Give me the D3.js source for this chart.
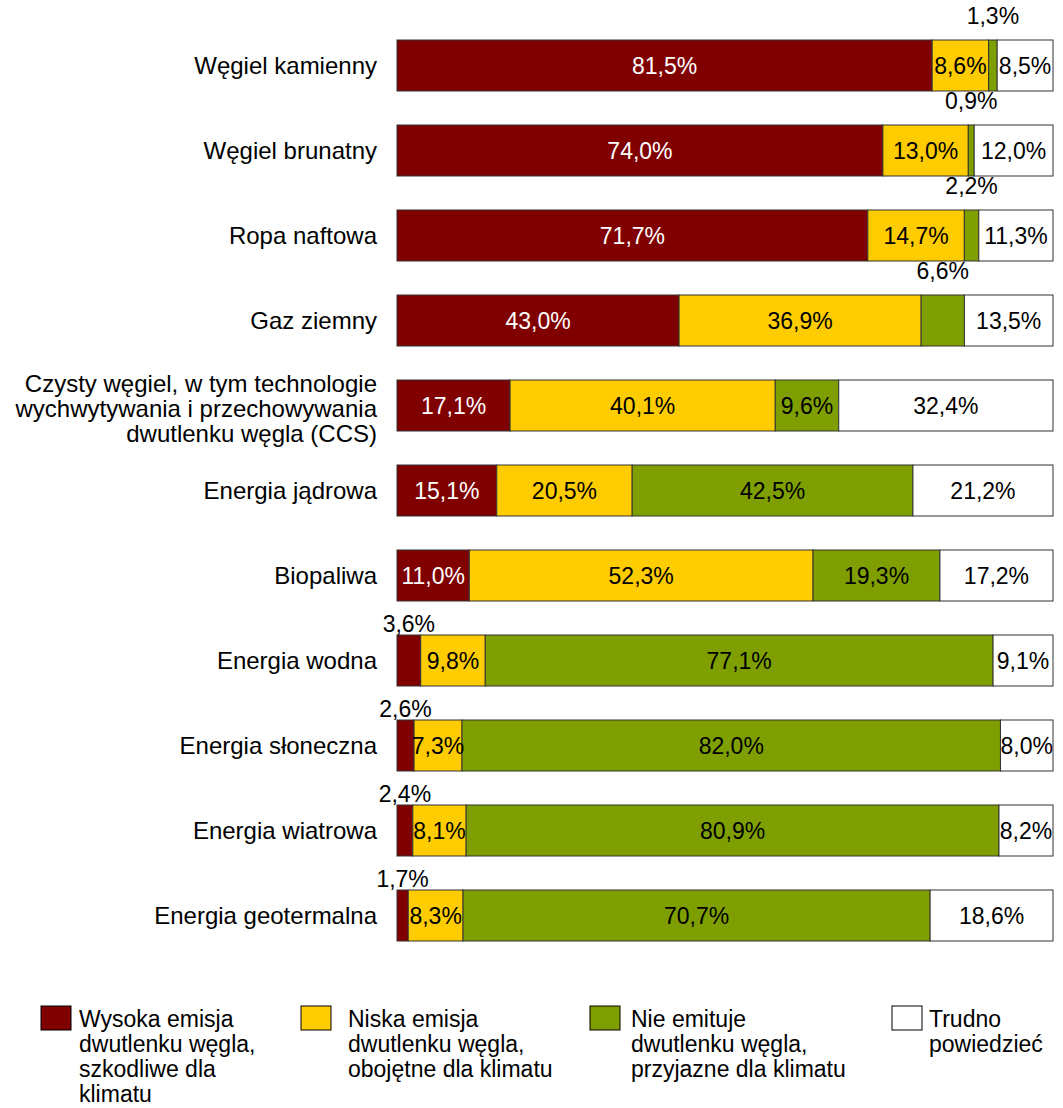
<!DOCTYPE html>
<html>
<head>
<meta charset="utf-8">
<script src="https://cdn.jsdelivr.net/npm/d3@7"></script>
<style>
  body { margin: 0; background: #fff; }
  text { font-family: "Liberation Sans", Arial, sans-serif; }
</style>
</head>
<body>
<div id="chart"></div>
<script>
const categories = [
    "Węgiel kamienny",
    "Węgiel brunatny",
    "Ropa naftowa",
    "Gaz ziemny",
    "Czysty węgiel, w tym technologie\nwychwytywania i przechowywania\ndwutlenku węgla (CCS)",
    "Energia jądrowa",
    "Biopaliwa",
    "Energia wodna",
    "Energia słoneczna",
    "Energia wiatrowa",
    "Energia geotermalna"
];
const highEmission = [81.5, 74.0, 71.7, 43.0, 17.1, 15.1, 11.0, 3.6, 2.6, 2.4, 1.7];
const lowEmission  = [8.6, 13.0, 14.7, 36.9, 40.1, 20.5, 52.3, 9.8, 7.3, 8.1, 8.3];
const noEmission   = [1.3, 0.9, 2.2, 6.6, 9.6, 42.5, 19.3, 77.1, 82.0, 80.9, 70.7];
const hardToSay    = [8.5, 12.0, 11.3, 13.5, 32.4, 21.2, 17.2, 9.1, 8.0, 8.2, 18.6];

const seriesKeys = ["high", "low", "none", "unsure"];
const legendLabels = [
    "Wysoka emisja\ndwutlenku węgla,\nszkodliwe dla\nklimatu",
    "Niska emisja\ndwutlenku węgla,\nobojętne dla klimatu",
    "Nie emituje\ndwutlenku węgla,\nprzyjazne dla klimatu",
    "Trudno\npowiedzieć"
];
const colors = ["#800000", "#FFCC00", "#7F9F00", "#FFFFFF"];

const width = 1063, height = 1108;
const fontSize = 23;
const catFontSize = 24;

const rows = categories.map((c, i) => ({
    cat: c,
    high: highEmission[i],
    low: lowEmission[i],
    none: noEmission[i],
    unsure: hardToSay[i]
}));

const stacked = d3.stack()
    .keys(seriesKeys)
    .offset(d3.stackOffsetExpand)(rows);

const svg = d3.select("#chart")
    .append("svg")
    .attr("width", width)
    .attr("height", height);

const x = d3.scaleLinear()
    .domain([0, 1])
    .range([397, 1053]);

const y = d3.scaleBand()
    .domain(categories)
    .range([40, 941])
    .paddingInner(0.4)
    .paddingOuter(0);

const fmt = v => d3.format(".1f")(v).replace(".", ",") + "%";

// segments
const layers = svg.selectAll(".layer")
    .data(stacked)
    .enter()
    .append("g")
    .attr("class", "layer")
    .attr("fill", (d, i) => colors[i]);

layers.selectAll("rect")
    .data(d => d)
    .enter()
    .append("rect")
    .attr("x", d => x(d[0]))
    .attr("y", d => y(d.data.cat))
    .attr("width", d => x(d[1]) - x(d[0]))
    .attr("height", y.bandwidth())
    .attr("stroke", "#333")
    .attr("stroke-width", 1);

// value labels, small ones go above the bar
stacked.forEach((layer, si) => {
    svg.append("g")
        .selectAll("text")
        .data(layer)
        .enter()
        .append("text")
        .attr("text-anchor", "middle")
        .attr("font-size", fontSize)
        .attr("fill", d => {
            const v = d.data[layer.key];
            return (si === 0 && v >= 7) ? "#fff" : "#000";
        })
        .attr("x", d => (x(d[0]) + x(d[1])) / 2)
        .attr("y", d => {
            const v = d.data[layer.key];
            if (v < 7) return y(d.data.cat) - (si === 2 ? 16 : 3);
            return y(d.data.cat) + y.bandwidth() / 2;
        })
        .attr("dy", d => d.data[layer.key] < 7 ? 0 : "0.35em")
        .text(d => fmt(d.data[layer.key]));
});

// category labels
const catLabels = svg.append("g")
    .selectAll("text")
    .data(categories)
    .enter()
    .append("text")
    .attr("text-anchor", "end")
    .attr("font-size", catFontSize)
    .attr("fill", "#000")
    .attr("x", 377)
    .attr("y", d => y(d) + y.bandwidth() / 2);

catLabels.each(function(d) {
    const lines = d.split("\n");
    const t = d3.select(this);
    lines.forEach((line, li) => {
        t.append("tspan")
            .attr("x", 377)
            .attr("dy", li === 0 ? ((-(lines.length - 1) / 2) * 25 + 0.35 * catFontSize + (lines.length > 1 ? 3 : 0)) : 25)
            .text(line);
    });
});

// legend
const legendX = [41, 301, 590, 892];
const legendTextX = [79, 348, 631, 929];
const legend = svg.append("g");
legendLabels.forEach((lab, i) => {
    legend.append("rect")
        .attr("x", legendX[i])
        .attr("y", 1006)
        .attr("width", 30)
        .attr("height", 24)
        .attr("fill", colors[i])
        .attr("stroke", "#000")
        .attr("stroke-width", 1);
    const t = legend.append("text")
        .attr("font-size", fontSize)
        .attr("x", legendTextX[i])
        .attr("y", 1027);
    lab.split("\n").forEach((line, li) => {
        t.append("tspan")
            .attr("x", legendTextX[i])
            .attr("dy", li === 0 ? 0 : 25)
            .text(line);
    });
});
</script>
</body>
</html>
